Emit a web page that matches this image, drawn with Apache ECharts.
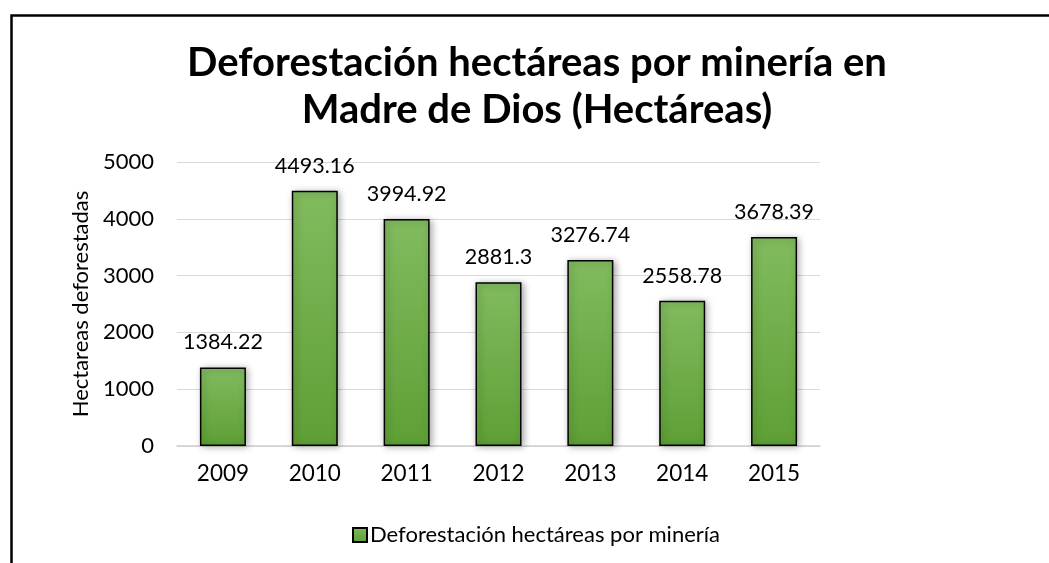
<!DOCTYPE html>
<html><head><meta charset="utf-8">
<script src="https://cdn.jsdelivr.net/npm/echarts@6/dist/echarts.min.js"></script>
<style>html,body{margin:0;padding:0;background:#fff}#c{width:1049px;height:563px}</style>
</head><body><div id="c"></div>
<script>
const categories = ['2009','2010','2011','2012','2013','2014','2015'];
const values = [1384.22, 4493.16, 3994.92, 2881.3, 3276.74, 2558.78, 3678.39];
const titleText = 'Deforestación hectáreas por minería en\nMadre de Dios (Hectáreas)';
const seriesName = 'Deforestación hectáreas por minería';
const yAxisName = 'Hectareas deforestadas';

const F = 'Lato';
const chart = echarts.init(document.getElementById('c'), null, {renderer:'canvas'});
chart.setOption({
  animation:false,
  backgroundColor:'#fff',
  graphic:[{type:'rect', left:9, top:13, shape:{width:1080, height:600},
    style:{fill:'none', stroke:'#000', lineWidth:2.5}, z:100}],
  title:{text:titleText, left:532, top:35, textAlign:'center',
    textStyle:{fontFamily:F, fontWeight:'bold', fontSize:40, lineHeight:47, color:'#000'}},
  legend:{data:[seriesName], left:347, top:519, itemWidth:14, itemHeight:14, itemGap:5,
    icon:'rect',
    textStyle:{fontFamily:F, fontSize:22, color:'#000', padding:[0,0,0,-2]}},
  grid:{left:177, right:229, top:162, bottom:117},
  xAxis:{type:'category', data:categories,
    axisLine:{lineStyle:{color:'#d0d0d0', width:1.5}}, axisTick:{show:false},
    axisLabel:{fontFamily:F, fontSize:22.5, color:'#000', margin:16}},
  yAxis:{type:'value', min:0, max:5000, interval:1000,
    name:yAxisName, nameLocation:'middle', nameGap:70, nameRotate:90,
    nameTextStyle:{fontFamily:F, fontSize:22, color:'#000'},
    axisLine:{show:false}, axisTick:{show:false},
    splitLine:{lineStyle:{color:'#d9d9d9', width:1.2}},
    axisLabel:{fontFamily:F, fontSize:22, color:'#000', margin:23, formatter:function(v){return String(v);}}},
  series:[{name:seriesName, type:'bar', data:values, barWidth:46,
    itemStyle:{
      color:new echarts.graphic.LinearGradient(0,0,0,1,[{offset:0,color:'#81bb5e'},{offset:1,color:'#5e9f35'}]),
      borderColor:'#000', borderWidth:1.5,
      shadowColor:'rgba(0,0,0,0.35)', shadowBlur:7, shadowOffsetX:2, shadowOffsetY:1},
    label:{show:true, position:'top', distance:14, fontFamily:F, fontSize:21.5, color:'#000'}
  }]
});
</script></body></html>
